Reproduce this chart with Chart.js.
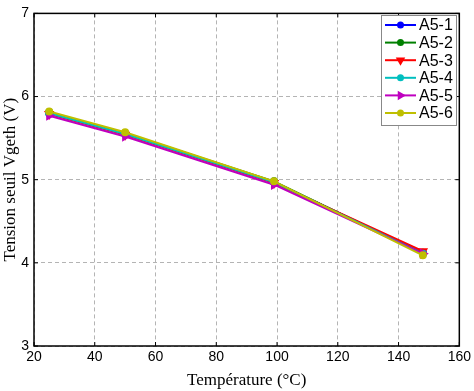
<!DOCTYPE html>
<html>
<head>
<meta charset="utf-8">
<script src="https://cdn.jsdelivr.net/npm/chart.js@4"></script>
<style>
  html, body { margin: 0; padding: 0; background: #fff; }
  #wrap { width: 474px; height: 391px; }
</style>
</head>
<body>
<div id="wrap"><canvas id="chartVth"></canvas></div>
<script>
  // temperatures (°C) and threshold voltage per sample
  const temps = [25, 50, 99, 148];
  const a51 = [5.80, 5.55, 4.97, 4.12];
  const a52 = [5.81, 5.56, 4.98, 4.11];
  const a53 = [5.79, 5.54, 4.96, 4.14];
  const a54 = [5.80, 5.55, 4.97, 4.11];
  const a55 = [5.77, 5.52, 4.94, 4.11];
  const a56 = [5.82, 5.57, 4.98, 4.09];
  const seriesNames = ["A5-1", "A5-2", "A5-3", "A5-4", "A5-5", "A5-6"];

  const colors = ["#0000ff", "#008000", "#ff0000", "#00bfbf", "#bf00bf", "#bfbf00"];
  const markers = [
    { style: "circle", rot: 0 },
    { style: "circle", rot: 0 },
    { style: "triangle", rot: 180 },
    { style: "circle", rot: 0 },
    { style: "triangle", rot: 90 },
    { style: "circle", rot: 0 },
  ];

  function pts(ys) {
    return temps.map((t, i) => ({ x: t, y: ys[i] }));
  }

  const all = [a51, a52, a53, a54, a55, a56];
  const datasets = all.map((ys, i) => ({
    label: seriesNames[i],
    data: pts(ys),
    borderColor: colors[i],
    backgroundColor: colors[i],
    borderWidth: 2,
    pointStyle: markers[i].style,
    rotation: markers[i].rot,
    pointRadius: markers[i].style === "triangle" ? 4 : 3,
    tension: 0,
    order: all.length - i, // last series drawn on top, like matlab
  }));

  // box + inner ticks (matlab style) and legend box
  const boxPlugin = {
    id: "box",
    afterDraw(chart) {
      const ctx = chart.ctx;
      const a = chart.chartArea;
      const xs = chart.scales.x, ys = chart.scales.y;
      ctx.save();
      ctx.strokeStyle = "#000";
      ctx.lineWidth = 1.5;
      ctx.strokeRect(a.left, a.top, a.right - a.left, a.bottom - a.top);
      ctx.lineWidth = 1;
      for (let v = 20; v <= 160; v += 20) {
        const px = xs.getPixelForValue(v);
        ctx.beginPath();
        ctx.moveTo(px, a.bottom); ctx.lineTo(px, a.bottom - 4);
        ctx.moveTo(px, a.top); ctx.lineTo(px, a.top + 4);
        ctx.stroke();
      }
      for (let v = 3; v <= 7; v += 1) {
        const py = ys.getPixelForValue(v);
        ctx.beginPath();
        ctx.moveTo(a.left, py); ctx.lineTo(a.left + 4, py);
        ctx.moveTo(a.right, py); ctx.lineTo(a.right - 4, py);
        ctx.stroke();
      }

      // legend
      const lx = 381, ly = 15, lw = 75, lh = 110;
      ctx.fillStyle = "#fff";
      ctx.fillRect(lx, ly, lw, lh);
      ctx.strokeStyle = "#888";
      ctx.lineWidth = 1;
      ctx.strokeRect(lx + 0.5, ly + 0.5, lw, lh);
      ctx.font = "16px 'Liberation Sans', Arial, sans-serif";
      ctx.textBaseline = "middle";
      chart.data.datasets.forEach((ds, i) => {
        const cy = ly + 10 + i * 17.6;
        ctx.strokeStyle = ds.borderColor;
        ctx.lineWidth = 2;
        ctx.beginPath();
        ctx.moveTo(lx + 4, cy); ctx.lineTo(lx + 35, cy);
        ctx.stroke();
        ctx.fillStyle = ds.borderColor;
        Chart.helpers.drawPoint(ctx, {
          pointStyle: ds.pointStyle,
          rotation: ds.rotation,
          radius: ds.pointRadius - 0.5,
          borderWidth: 1,
        }, lx + 19.5, cy);
        ctx.fillStyle = "#000";
        ctx.fillText(ds.label, lx + 38, cy + 1);
      });
      ctx.restore();
    },
  };

  new Chart(document.getElementById("chartVth"), {
    type: "line",
    data: { datasets: datasets },
    options: {
      responsive: true,
      maintainAspectRatio: false,
      animation: false,
      layout: { padding: { top: 10, right: 14, left: 0, bottom: 0 } },
      plugins: { legend: { display: false }, tooltip: { enabled: false } },
      scales: {
        x: {
          type: "linear",
          min: 20,
          max: 160,
          ticks: {
            stepSize: 20,
            color: "#000",
            padding: 3,
            font: { family: "'Liberation Sans', Arial, sans-serif", size: 14 },
          },
          grid: { color: "#b4b4b4", drawTicks: false, lineWidth: 1 },
          border: { display: false, dash: [4, 3] },
          title: {
            display: true,
            text: "Température (°C)",
            color: "#000",
            padding: { top: 2, bottom: 0 },
            font: { family: "'Liberation Serif', 'Times New Roman', serif", size: 17 },
          },
          afterFit: (s) => { s.height = 45; },
        },
        y: {
          min: 3,
          max: 7,
          ticks: {
            stepSize: 1,
            color: "#000",
            padding: 5,
            font: { family: "'Liberation Sans', Arial, sans-serif", size: 14 },
          },
          grid: { color: "#b4b4b4", drawTicks: false, lineWidth: 1 },
          border: { display: false, dash: [4, 3] },
          title: {
            display: true,
            text: "Tension seuil Vgeth (V)",
            color: "#000",
            padding: { top: 0, bottom: 0 },
            font: { family: "'Liberation Serif', 'Times New Roman', serif", size: 17 },
          },
          afterFit: (s) => { s.width = 34; },
        },
      },
    },
    plugins: [boxPlugin],
  });
</script>
</body>
</html>
